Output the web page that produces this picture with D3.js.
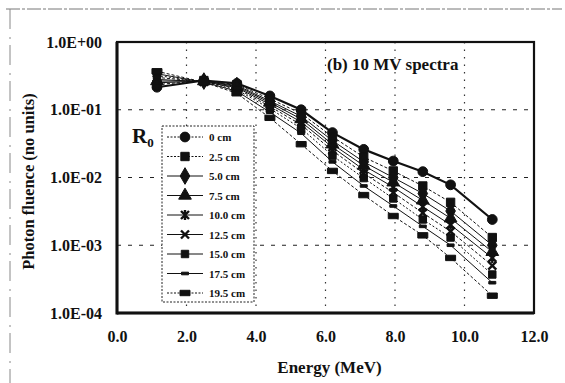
<!DOCTYPE html>
<html>
<head>
<meta charset="utf-8">
<script src="https://cdn.jsdelivr.net/npm/d3@7"></script>
<style>
  body { margin: 0; background: #fff; }
  text { font-family: "Liberation Serif", "Times New Roman", serif; font-weight: bold; fill: #111; }
</style>
</head>
<body>
<script>
// energies (MeV) of each bin
var energies = [1.15, 2.5, 3.45, 4.4, 5.3, 6.2, 7.1, 7.95, 8.8, 9.6, 10.8];

// off-axis distance R0 for each curve
var seriesNames = ["0 cm", "2.5 cm", "5.0 cm", "7.5 cm", "10.0 cm", "12.5 cm", "15.0 cm", "17.5 cm", "19.5 cm"];

// photon fluence, one array per curve
var r0_0    = [0.215, 0.27, 0.245, 0.16, 0.10, 0.046, 0.026, 0.0175, 0.0122, 0.0078, 0.0024];
var r0_2_5  = [0.235, 0.27, 0.235, 0.145, 0.088, 0.040, 0.020, 0.0125, 0.0075, 0.0043, 0.0013];
var r0_5_0  = [0.25, 0.265, 0.228, 0.135, 0.080, 0.035, 0.017, 0.010, 0.0058, 0.0032, 0.001];
var r0_7_5  = [0.265, 0.265, 0.22, 0.128, 0.073, 0.031, 0.015, 0.0085, 0.0046, 0.0025, 0.0008];
var r0_10_0 = [0.28, 0.26, 0.212, 0.12, 0.066, 0.028, 0.013, 0.0072, 0.0037, 0.002, 0.00065];
var r0_12_5 = [0.30, 0.26, 0.205, 0.112, 0.06, 0.025, 0.0115, 0.006, 0.003, 0.0016, 0.0005];
var r0_15_0 = [0.32, 0.258, 0.197, 0.104, 0.053, 0.021, 0.0098, 0.0049, 0.0024, 0.0013, 0.00037];
var r0_17_5 = [0.34, 0.255, 0.188, 0.092, 0.045, 0.017, 0.0075, 0.0038, 0.0019, 0.001, 0.00028];
var r0_19_5 = [0.37, 0.255, 0.175, 0.076, 0.031, 0.0125, 0.0055, 0.0027, 0.0014, 0.00065, 0.00018];

var xTicks = [0, 2, 4, 6, 8, 10, 12];
var xTickLabels = ["0.0", "2.0", "4.0", "6.0", "8.0", "10.0", "12.0"];
var yTicks = [1, 0.1, 0.01, 0.001, 0.0001];
var yTickLabels = ["1.0E+00", "1.0E-01", "1.0E-02", "1.0E-03", "1.0E-04"];

var allSeries = [r0_0, r0_2_5, r0_5_0, r0_7_5, r0_10_0, r0_12_5, r0_15_0, r0_17_5, r0_19_5];

var W = 565, H = 383;
var plotL = 117, plotR = 534, plotT = 42, plotB = 313;

var svg = d3.select("body").append("svg")
    .attr("width", W)
    .attr("height", H);

// scan frame remnants
svg.append("line").attr("x1", 6).attr("x2", 562).attr("y1", 9).attr("y2", 9)
    .attr("stroke", "#777").attr("stroke-width", 1).attr("stroke-dasharray", "14,2,3,2");
svg.append("line").attr("x1", 10).attr("x2", 10).attr("y1", 9).attr("y2", 383)
    .attr("stroke", "#888").attr("stroke-width", 1).attr("stroke-dasharray", "20,8,2,6");

var x = d3.scaleLinear().domain([0, 12]).range([plotL, plotR]);
var y = d3.scaleLog().domain([1e-4, 1]).range([plotB, plotT]);

// gridlines
svg.append("g").selectAll("line")
    .data(yTicks.slice(1, 4))
    .enter().append("line")
    .attr("x1", plotL).attr("x2", plotR)
    .attr("y1", function(d) { return y(d); })
    .attr("y2", function(d) { return y(d); })
    .attr("stroke", "#222").attr("stroke-width", 1.2)
    .attr("stroke-dasharray", "4,7");

svg.append("g").selectAll("line")
    .data(xTicks.slice(1, 6))
    .enter().append("line")
    .attr("x1", function(d) { return x(d); })
    .attr("x2", function(d) { return x(d); })
    .attr("y1", plotT).attr("y2", plotB)
    .attr("stroke", "#333").attr("stroke-width", 1.2)
    .attr("stroke-dasharray", "1.5,6");

// markers
function markerPath(i) {
    switch (i) {
        case 0: return d3.symbol().type(d3.symbolCircle).size(75)();
        case 1: return d3.symbol().type(d3.symbolSquare).size(70)();
        case 2: return d3.symbol().type(d3.symbolDiamond).size(80)();
        case 3: return d3.symbol().type(d3.symbolTriangle).size(70)();
        case 4: return "M-4,-4L4,4M-4,4L4,-4M0,-5L0,5";
        case 5: return "M-4,-4L4,4M-4,4L4,-4";
        case 6: return d3.symbol().type(d3.symbolSquare).size(55)();
        case 7: return "M-3.5,-1.3H3.5V1.3H-3.5Z";
        case 8: return "M-5,-2.7H5V2.7H-5Z";
    }
}
var lineDash = [null, "3,2", null, null, null, "3,2", "2,2", null, "3,2"];
var lineWidth = [2.2, 1, 1, 1, 1, 1, 1, 1, 1];

var line = d3.line()
    .x(function(d) { return x(d[0]); })
    .y(function(d) { return y(d[1]); });

allSeries.forEach(function(vals, i) {
    var pts = energies.map(function(e, k) { return [e, vals[k]]; });
    var g = svg.append("g");
    g.append("path")
        .attr("d", line(pts))
        .attr("fill", "none")
        .attr("stroke", "#111")
        .attr("stroke-width", lineWidth[i])
        .attr("stroke-dasharray", lineDash[i]);
    g.selectAll("path.m")
        .data(pts)
        .enter().append("path")
        .attr("class", "m")
        .attr("d", markerPath(i))
        .attr("transform", function(d) { return "translate(" + x(d[0]) + "," + y(d[1]) + ")"; })
        .attr("fill", "#111")
        .attr("stroke", "#111")
        .attr("stroke-width", (i == 4 || i == 5) ? 2.4 : 1);
});

// frame
svg.append("rect")
    .attr("x", plotL).attr("y", plotT)
    .attr("width", plotR - plotL).attr("height", plotB - plotT)
    .attr("fill", "none").attr("stroke", "#111").attr("stroke-width", 2.2);
svg.append("line").attr("x1", plotL).attr("x2", plotL).attr("y1", plotT).attr("y2", plotB + 1.5)
    .attr("stroke", "#111").attr("stroke-width", 3);
svg.append("line").attr("x1", plotL).attr("x2", plotR).attr("y1", plotB).attr("y2", plotB)
    .attr("stroke", "#111").attr("stroke-width", 3);

// axes
var xAxis = d3.axisBottom(x)
    .tickValues(xTicks)
    .tickSize(0)
    .tickPadding(18)
    .tickFormat(function(d, i) { return xTickLabels[i]; });
var yAxis = d3.axisLeft(y)
    .tickValues(yTicks)
    .tickSize(0)
    .tickPadding(15)
    .tickFormat(function(d, i) { return yTickLabels[i]; });

var gx = svg.append("g")
    .attr("transform", "translate(0," + plotB + ")")
    .call(xAxis);
var gy = svg.append("g")
    .attr("transform", "translate(" + plotL + ",0)")
    .call(yAxis);
[gx, gy].forEach(function(g) {
    g.select(".domain").remove();
    g.selectAll("text")
        .attr("fill", "#111")
        .style("font-family", "'Liberation Serif', serif")
        .style("font-weight", "bold")
        .style("font-size", "16px");
});

svg.append("text")
    .attr("x", (plotL + plotR) / 2 + 4).attr("y", 373)
    .attr("text-anchor", "middle")
    .style("font-size", "17px")
    .text("Energy (MeV)");

svg.append("text")
    .attr("transform", "translate(34," + ((plotT + plotB) / 2 + 4) + ") rotate(-90)")
    .attr("text-anchor", "middle")
    .style("font-size", "16.5px")
    .text("Photon fluence (no units)");

svg.append("text")
    .attr("x", 327).attr("y", 70)
    .style("font-size", "17px")
    .text("(b) 10 MV spectra");

// legend
var lg = svg.append("g");
lg.append("rect")
    .attr("x", 162).attr("y", 126)
    .attr("width", 92).attr("height", 176)
    .attr("fill", "#fff")
    .attr("stroke", "#222").attr("stroke-width", 1)
    .attr("stroke-dasharray", "2,1.5");

var R = lg.append("text").attr("x", 132).attr("y", 143).style("font-size", "21px");
R.append("tspan").text("R");
R.append("tspan").attr("dy", 4).style("font-size", "13px").text("0");

seriesNames.forEach(function(name, i) {
    var ly = 137 + i * 19.5;
    lg.append("line")
        .attr("x1", 167).attr("x2", 203)
        .attr("y1", ly).attr("y2", ly)
        .attr("stroke", "#111").attr("stroke-width", 1)
        .attr("stroke-dasharray", i == 0 || i == 1 || i == 8 ? "2,1.5" : null);
    lg.append("path")
        .attr("d", markerPath(i))
        .attr("transform", "translate(185," + ly + ")")
        .attr("fill", "#111").attr("stroke", "#111")
        .attr("stroke-width", (i == 4 || i == 5) ? 2.4 : 1);
    lg.append("text")
        .attr("x", 209).attr("y", ly + 4)
        .style("font-size", "11px")
        .text(name);
});
</script>
</body>
</html>
